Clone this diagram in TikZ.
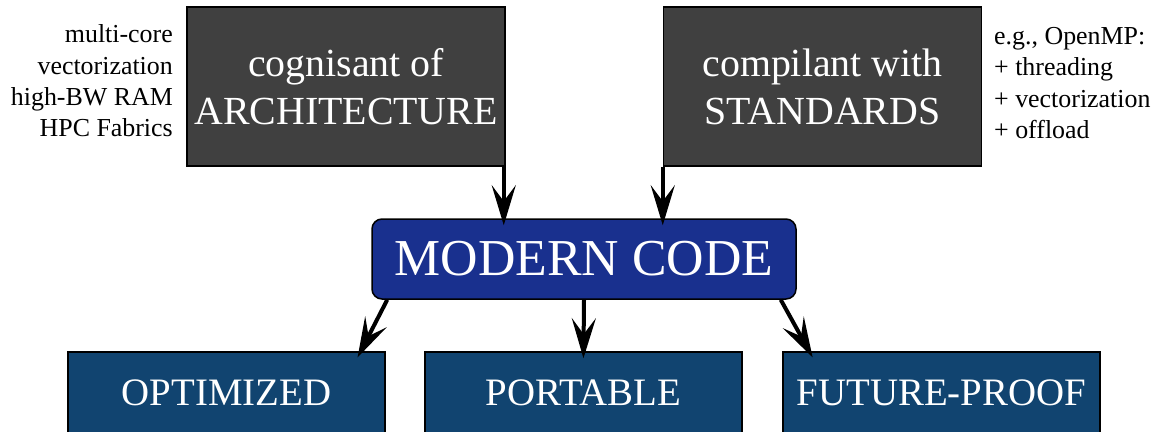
\documentclass[tikz,border=0pt]{standalone}
\usepackage{fontspec}
\setmainfont{LiberationSerif}[Extension=.ttf, UprightFont=*-Regular, BoldFont=*-Bold, ItalicFont=*-Italic, BoldItalicFont=*-BoldItalic]
\usetikzlibrary{arrows.meta,calc}
\definecolor{boxgray}{HTML}{404040}
\definecolor{modblue}{HTML}{19308E}
\definecolor{outblue}{HTML}{114470}
\begin{document}
\begin{tikzpicture}[x=1bp,y=-1bp,
  topbox/.style={draw=black, line width=1.5bp, fill=boxgray, text=white, align=center,
    minimum width=318bp, minimum height=159bp, inner sep=0pt, font=\fontsize{40}{48}\selectfont},
  modbox/.style={draw=black, line width=1.5bp, fill=modblue, text=white, rounded corners=10bp,
    minimum width=424bp, minimum height=80bp, inner sep=0pt, font=\fontsize{52}{60}\selectfont},
  outbox/.style={draw=black, line width=1.5bp, fill=outblue, text=white,
    minimum width=317bp, minimum height=81bp, inner sep=0pt, font=\fontsize{39}{47}\selectfont},
  note/.style={font=\fontsize{26}{31.5}\selectfont, inner sep=0pt},
  conn/.style={line width=4bp, -{Stealth[length=40bp,width=24bp,inset=16bp]}, shorten >=-7bp}]
\useasboundingbox (0,0) rectangle (1158,431);
\node[topbox] (arch) at (346,86.5) {cognisant of\\ARCHITECTURE};
\node[topbox] (std) at (822.5,86.5) {compilant with\\STANDARDS};
\node[modbox] (modern) at (584,259) {MODERN CODE};
\node[outbox] (opt) at (226.5,392.5) {OPTIMIZED};
\node[outbox] (port) at (583.5,392.5) {PORTABLE};
\node[outbox] (fut) at (941.5,392.5) {FUTURE-PROOF};
\node[note, anchor=east, align=right] (lnote) at (173,81) {multi-core\\vectorization\\high-BW RAM\\HPC Fabrics};
\node[note, anchor=west, align=left] (rnote) at (994,83) {e.g., OpenMP:\\+ threading\\+ vectorization\\+ offload};
\coordinate (a1) at ($(arch.south east)+(-2,0)$);
\coordinate (a2) at (a1 |- modern.north);
\draw[conn] (a1) -- (a2);
\draw[conn] (std.south west) -- (std.south west |- modern.north);
\draw[conn] ($(modern.south west)+(16,0)$) -- ($(opt.north east)+(-25,0)$);
\draw[conn] (modern.south) -- (port.north);
\draw[conn] ($(modern.south east)+(-16,0)$) -- ($(fut.north west)+(27,0)$);
\end{tikzpicture}
\end{document}
